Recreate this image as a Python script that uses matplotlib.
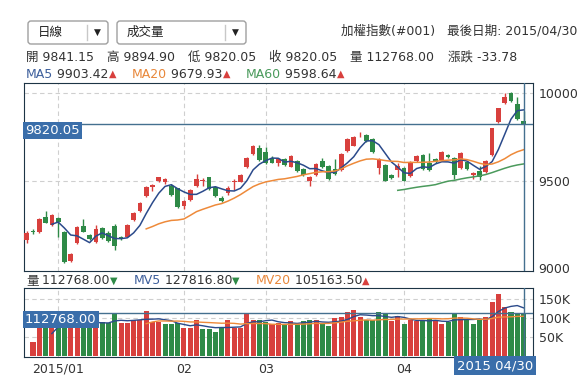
import matplotlib.pyplot as plt
import numpy as np
import pandas as pd
from matplotlib.patches import FancyBboxPatch
from matplotlib.transforms import blended_transform_factory as blend

plt.rcParams['font.family'] = ['DejaVu Sans', 'Noto Sans CJK TC']

# TAIEX daily bars, late Dec 2014 .. 2015/04/30
opens = [9160, 9213, 9208, 9293, 9246, 9288, 9207, 9040, 9145, 9242,
         9190, 9150, 9229, 9202, 9242, 9179, 9179, 9274, 9326, 9413,
         9461, 9497, 9493, 9469, 9455, 9354, 9389, 9470, 9498, 9518,
         9465, 9402, 9427, 9489, 9493, 9575, 9650, 9688, 9665, 9631,
         9598, 9621, 9578, 9611, 9564, 9497, 9531, 9611, 9583, 9564,
         9560, 9668, 9699, 9763, 9760, 9735, 9570, 9589, 9531, 9560,
         9573, 9527, 9613, 9646, 9598, 9623, 9617, 9643, 9627, 9570,
         9607, 9531, 9556, 9547, 9646, 9836, 9941, 9998, 9937, 9841.15]
highs = [9210, 9222, 9285, 9328, 9310, 9292, 9212, 9085, 9240, 9278,
         9195, 9245, 9235, 9210, 9250, 9185, 9250, 9318, 9375, 9470,
         9478, 9522, 9512, 9480, 9460, 9390, 9450, 9535, 9512, 9520,
         9470, 9410, 9470, 9510, 9535, 9632, 9700, 9700, 9690, 9640,
         9628, 9630, 9645, 9618, 9570, 9526, 9598, 9630, 9588, 9623,
         9655, 9742, 9752, 9779, 9765, 9740, 9627, 9594, 9537, 9598,
         9578, 9610, 9646, 9652, 9659, 9630, 9670, 9652, 9634, 9664,
         9612, 9550, 9580, 9618, 9802, 9916, 10002, 10008, 9979, 9894.90]
lows = [9141, 9195, 9200, 9255, 9240, 9179, 9030, 9035, 9140, 9203,
        9160, 9145, 9165, 9148, 9103, 9160, 9175, 9270, 9320, 9408,
        9440, 9490, 9480, 9410, 9345, 9340, 9385, 9465, 9470, 9447,
        9405, 9380, 9420, 9445, 9490, 9570, 9645, 9612, 9592, 9598,
        9580, 9585, 9575, 9550, 9525, 9469, 9527, 9570, 9505, 9530,
        9556, 9664, 9695, 9746, 9722, 9655, 9535, 9495, 9510, 9522,
        9495, 9522, 9608, 9560, 9555, 9598, 9612, 9628, 9506, 9565,
        9558, 9506, 9505, 9542, 9641, 9830, 9936, 9950, 9848, 9820.05]
closes = [9202, 9208, 9278, 9259, 9303, 9265, 9036, 9080, 9236, 9207,
          9166, 9223, 9171, 9154, 9128, 9164, 9246, 9312, 9369, 9465,
          9474, 9518, 9506, 9417, 9350, 9383, 9446, 9509, 9503, 9451,
          9413, 9385, 9455, 9497, 9529, 9627, 9697, 9617, 9598, 9602,
          9621, 9588, 9640, 9556, 9531, 9522, 9592, 9575, 9508, 9535,
          9651, 9737, 9747, 9765, 9728, 9661, 9623, 9499, 9516, 9583,
          9499, 9604, 9640, 9566, 9560, 9604, 9665, 9636, 9531, 9659,
          9564, 9545, 9522, 9611, 9798, 9912, 9975, 9956, 9853.83, 9820.05]
volumes = [0, 38000, 85000, 92000, 80000, 88000, 105000, 95000, 90000, 85000,
           80000, 92000, 90000, 88000, 112000, 88000, 86000, 95000, 95000, 119000,
           90000, 90000, 83000, 83000, 86000, 73000, 73000, 95000, 71000, 71000,
           63000, 75000, 95000, 75000, 75000, 110000, 95000, 95000, 90000, 83000,
           88000, 83000, 92000, 83000, 92000, 95000, 95000, 83000, 79000, 99000,
           103000, 117000, 121000, 103000, 95000, 95000, 117000, 110000, 92000, 105000,
           84000, 95000, 92000, 92000, 99000, 92000, 83000, 89000, 112000, 102000,
           95000, 83000, 95000, 102000, 143000, 163000, 128000, 117000, 113000, 112768]

month_pos = [5, 25, 38, 60]
month_labels = ['2015/01', '02', '03', '04']
last_date = '2015 04/30'

ma_periods = [5, 20, 60]
ma_last = [9903.42, 9679.93, 9598.64]
mv_periods = [5, 20]
mv_last = [127816.80, 105163.50]

RED = '#d8403d'
GREEN = '#2e8a47'
MA_COLORS = ['#2b4a8b', '#ee8a3a', '#4b9a5c']
LABEL_COLORS = ['#3d5f9c', '#e8873a', '#4a9a5c']
CROSS = '#44708f'
BOX = '#3a6eaa'
FRAME = '#1d3445'
GRID = '#cfcfcf'
TXT = '#333333'

W, H = 584, 384
fig = plt.figure(figsize=(W / 100, H / 100), dpi=100)


def rect(x0, y0, x1, y1):
    return [x0 / W, 1 - y1 / H, (x1 - x0) / W, (y1 - y0) / H]


ov = fig.add_axes([0, 0, 1, 1])
ov.set_xlim(0, W)
ov.set_ylim(H, 0)
ov.axis('off')

ax = fig.add_axes(rect(24, 83, 533, 271))
axv = fig.add_axes(rect(24, 288, 533, 357))

x = np.arange(len(closes))
o, h, l, c = map(np.array, (opens, highs, lows, closes))
vol = np.array(volumes, dtype=float)
col = np.where(c >= o, RED, GREEN)

# ---- price panel
for p in [9500, 10000]:
    ax.axhline(p, color=GRID, lw=0.8, ls=(0, (4, 3)), zorder=1)
for m in month_pos:
    ax.axvline(m, color=GRID, lw=0.8, ls=(0, (4, 3)), zorder=1)

ax.vlines(x, l, h, colors=col, lw=1, zorder=3)
ax.bar(x, np.maximum(np.abs(c - o), 4), bottom=np.minimum(o, c), width=0.75,
       color=col, zorder=4)

s = pd.Series(closes)
for n, mc in zip(ma_periods, MA_COLORS):
    ax.plot(x, s.rolling(n).mean(), color=mc, lw=1.1, zorder=5)

ax.axhline(c[-1], color=CROSS, lw=1, zorder=6)
ax.axvline(x[-1], color=CROSS, lw=1, zorder=6)
ax.text(0.002, c[-1], f'{c[-1]:.2f}', transform=blend(ax.transAxes, ax.transData),
        ha='left', va='top', color='white', fontsize=9.5, zorder=7,
        bbox=dict(boxstyle='square,pad=0.15', fc=BOX, ec='none'))

ax.set_xlim(-0.43, 80.5)
ax.set_ylim(8983, 10057)
ax.set_xticks([])
ax.yaxis.tick_right()
ax.set_yticks([9000, 9500, 10000])
ax.tick_params(axis='y', length=0, pad=4, labelsize=9, labelcolor=TXT)
for sp in ax.spines.values():
    sp.set_color(FRAME)

# ---- volume panel
for v in [50000, 100000, 150000]:
    axv.axhline(v, color=GRID, lw=0.8, ls=(0, (4, 3)), zorder=1)
for m in month_pos:
    axv.axvline(m, color=GRID, lw=0.8, ls=(0, (4, 3)), zorder=1)

vup = np.r_[True, c[1:] >= c[:-1]]
axv.bar(x, vol, width=0.8, color=np.where(vup, RED, GREEN), zorder=3)
sv = pd.Series(vol)
for n, mc in zip(mv_periods, MA_COLORS):
    axv.plot(x, sv.rolling(n).mean(), color=mc, lw=1, zorder=4)

axv.axhline(vol[-1], color=CROSS, lw=1, zorder=6)
axv.axvline(x[-1], color=CROSS, lw=1, zorder=6)
axv.text(0.002, vol[-1], f'{vol[-1]:.2f}', transform=blend(axv.transAxes, axv.transData),
         ha='left', va='top', color='white', fontsize=9.5, zorder=7,
         bbox=dict(boxstyle='square,pad=0.15', fc=BOX, ec='none'))
axv.text(1.0, -0.03, last_date, transform=axv.transAxes, ha='right', va='top',
         color='white', fontsize=9.5, zorder=7,
         bbox=dict(boxstyle='square,pad=0.2', fc=BOX, ec='none'))

axv.set_xlim(-0.43, 80.5)
axv.set_ylim(-2600, 179000)
axv.set_xticks(month_pos)
axv.set_xticklabels(month_labels)
axv.yaxis.tick_right()
axv.set_yticks([50000, 100000, 150000])
axv.set_yticklabels(['50K', '100K', '150K'])
axv.tick_params(length=0, labelsize=9, labelcolor=TXT)
axv.tick_params(axis='y', pad=4)
axv.tick_params(axis='x', pad=4)
for sp in axv.spines.values():
    sp.set_color(FRAME)

# ---- header
for (x0, x1, label, sep) in [(28, 108, '日線', 87), (117, 246, '成交量', 225)]:
    ov.add_patch(FancyBboxPatch((x0, 21), x1 - x0, 23, boxstyle='round,pad=0,rounding_size=3',
                                fc='white', ec='#a0a0a0', lw=1))
    ov.plot([sep, sep], [25, 40], color='#c8c8c8', lw=1)
    ov.text(x0 + 10, 32.5, label, fontsize=9, color='#222222', va='center')
    ov.text((sep + x1) / 2, 32.5, '▼', fontsize=6.5, color='#222222', va='center', ha='center')

ov.text(577, 31, '加權指數(#001)   最後日期: 2015/04/30', fontsize=9, color=TXT,
        ha='right', va='center')

stats = [('開', o[-1]), ('高', h[-1]), ('低', l[-1]), ('收', c[-1]),
         ('量', vol[-1]), ('漲跌', c[-1] - c[-2])]
prev = None
for k, v in stats:
    if prev is None:
        prev = ov.text(26, 57, f'{k} {v:.2f}', fontsize=9, color=TXT, va='center')
    else:
        prev = ov.annotate(f'{k} {v:.2f}', xy=(1, 0.5), xycoords=prev, xytext=(13, 0),
                           textcoords='offset pixels', va='center', fontsize=9, color=TXT)


def indicator(x0, y, names, values, colors, arrows, gap=16):
    t = None
    for nm, vv, cc, ar in zip(names, values, colors, arrows):
        if t is None:
            t = ov.text(x0, y, nm, fontsize=9, color=cc, va='center')
        else:
            t = ov.annotate(nm, xy=(1, 0.5), xycoords=t, xytext=(gap, 0),
                            textcoords='offset pixels', va='center', fontsize=9, color=cc)
        t = ov.annotate(f' {vv:.2f}', xycoords=t, xy=(1, 0.5), va='center',
                        fontsize=9, color=TXT)
        t = ov.annotate(ar, xycoords=t, xy=(1, 0.5), va='center', fontsize=7,
                        color=RED if ar == '▲' else GREEN)


indicator(26, 74, [f'MA{n}' for n in ma_periods], ma_last, LABEL_COLORS,
          ['▲', '▲', '▲'])
indicator(26, 281, ['量'] + [f'MV{n}' for n in mv_periods],
          [vol[-1]] + mv_last, [TXT] + LABEL_COLORS[:2], ['▼', '▼', '▲'])

fig.savefig('out.png', dpi=100)
